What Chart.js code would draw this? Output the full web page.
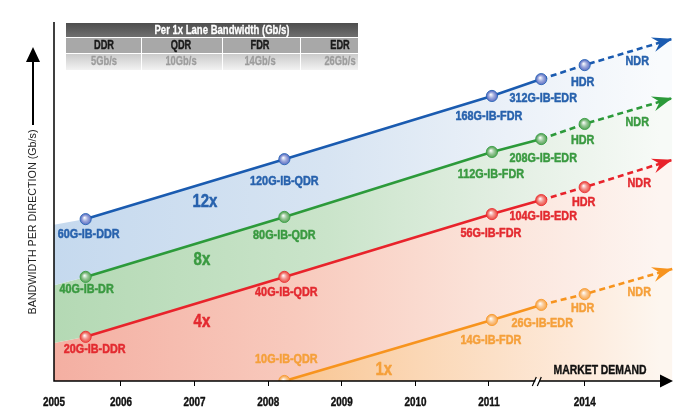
<!DOCTYPE html>
<html><head><meta charset="utf-8">
<script src="https://cdn.jsdelivr.net/npm/chart.js@4.4.0/dist/chart.umd.min.js"></script>
<style>html,body{margin:0;padding:0;background:#fff}#wrap{width:694px;height:417px;position:relative}</style>
</head><body><div id="wrap"><canvas id="c"></canvas></div>
<script>
// ---- data ----
const releaseYears = [2005.52, 2008.22, 2011.04, 2011.71, 2012.30, 2013.49]; // DDR, QDR, FDR, EDR, HDR, NDR
const blue12x   = [45.1, 61.8, 79.4, 84.1, 88.0, 95.3];
const green8x   = [29.0, 45.7, 63.8, 67.4, 71.6, 78.8];
const red4x     = [12.3, 29.0, 46.5, 50.4, 54.0, 61.6];
const orange1x  = [null, 0.0, 17.0, 21.2, 24.2, 31.2];
const blueLabels   = ['60G-IB-DDR','120G-IB-QDR','168G-IB-FDR','312G-IB-EDR','HDR','NDR'];
const greenLabels  = ['40G-IB-DR','80G-IB-QDR','112G-IB-FDR','208G-IB-EDR','HDR','NDR'];
const redLabels    = ['20G-IB-DDR','40G-IB-QDR','56G-IB-FDR','104G-IB-EDR','HDR','NDR'];
const orangeLabels = [null,'10G-IB-QDR','14G-IB-FDR','26G-IB-EDR','HDR','NDR'];
const multipliers = ['12x','8x','4x','1x'];
const axisStartYear = 2005.09;
const areaStart = [43.5, 26.7, 10.6]; // 12x, 8x, 4x band edges at axis start
const xTickValues = [2005.09, 2006, 2007, 2008, 2009, 2010, 2011, 2012.30];
const xTickLabels = ['2005','2006','2007','2008','2009','2010','2011','2014'];
const breakYear = 2011.67;
const dashFromYear = 2011.71;
const tableTitle = 'Per 1x Lane Bandwidth (Gb/s)';
const laneNames = ['DDR','QDR','FDR','EDR'];
const laneRates = ['5Gb/s','10Gb/s','14Gb/s','26Gb/s'];
const yTitle = 'BANDWIDTH PER DIRECTION (Gb/s)';
const xTitle = 'MARKET DEMAND';

// ---- layout / style ----
const LINE  = {blue:'#1a5bb0', green:'#2c9a3a', red:'#e8232b', orange:'#f7941e'};
const TEXT  = {blue:'#2862ad', green:'#3a9a41', red:'#e32a30', orange:'#f5a03b'};
const POINT = {blue:'#6f80cb', green:'#68ad68', red:'#ee5f56', orange:'#f8b062'};
const labelOffsets = {
  blue:   [[3,15],[0,22],[-3,20],[2,19],[-2,17],[-35,23]],
  green:  [[1,13],[0,18],[-1,22],[2,19],[-2,16],[-35,24]],
  red:    [[9,13],[2,16],[-1,19],[2,16],[-1,15],[-33,24]],
  orange: [null,[2,-22],[-1,20],[1,19],[-2,14],[-33,23]]
};
const multPos = [[2007.14,49.9,'blue'],[2007.10,33.7,'green'],[2007.10,16.4,'red'],[2009.57,3.1,'orange']];
const FAM = '"Liberation Sans","Arimo",Arial,sans-serif';

function pts(vals){ const out=[]; releaseYears.forEach((x,i)=>{ if(vals[i]!=null) out.push({x:x,y:vals[i]}); }); return out; }
function hGrad(stops){
  return (ctx)=>{
    const ch=ctx.chart, a=ch.chartArea;
    if(!a) return stops[0][1];
    const g=ch.ctx.createLinearGradient(a.left,0,a.left+606,0);
    stops.forEach(s=>g.addColorStop(s[0],s[1]));
    return g;
  };
}
function fillDs(data, fill, stops, order){
  return {data, fill, backgroundColor:hGrad(stops), borderColor:'rgba(0,0,0,0)', borderWidth:0, pointRadius:0, order, tension:0};
}
const series = [
  {key:'blue', vals:blue12x, labels:blueLabels},
  {key:'green', vals:green8x, labels:greenLabels},
  {key:'red', vals:red4x, labels:redLabels},
  {key:'orange', vals:orange1x, labels:orangeLabels}
];
function lineDs(s){
  const d=pts(s.vals);
  return {
    data:d, borderColor:LINE[s.key], borderWidth:2.6, fill:false, order:1, tension:0,
    pointRadius:c=>c.dataIndex===d.length-1?0:5.6,
    pointBackgroundColor:POINT[s.key], pointBorderColor:LINE[s.key], pointBorderWidth:0.8,
    segment:{borderDash:c=>{ const ds=c.chart.data.datasets[c.datasetIndex]; return ds.data[c.p0DataIndex].x>=dashFromYear-1e-6?[6,4]:[]; }},
    _key:s.key, _labels:s.labels.filter(v=>v!=null), _offs:labelOffsets[s.key].filter(v=>v!=null)
  };
}
const datasets = [
  fillDs([{x:axisStartYear,y:areaStart[0]},...pts(blue12x)], '+1', [[0,'#c5d9ee'],[0.45,'#d7e4f2'],[0.75,'#ebf1f8'],[1,'#f9fbfd']], 7),
  fillDs([{x:axisStartYear,y:areaStart[1]},...pts(green8x)], '+1', [[0,'#b4d9b4'],[0.45,'#cae4ca'],[0.75,'#e3efe3'],[1,'#f7faf7']], 8),
  fillDs([{x:axisStartYear,y:areaStart[2]},...pts(red4x)], 'start', [[0,'#f4afa2'],[0.4,'#f8cabd'],[0.7,'#fbe2d8'],[1,'#fdf5f1']], 10),
  fillDs(pts(orange1x), 'start', [[0.35,'#f8c28c'],[0.6,'#fbd7b5'],[0.85,'#fde9d9'],[1,'#fdf6ef']], 9),
  ...series.map(lineDs)
];

const fitCache={};
function fitText(c,s,x,y,font,color,sample,target,bold){
  const key=font+'|'+sample;
  if(!(key in fitCache)){ c.save(); c.font=font; fitCache[key]=target/c.measureText(sample).width; c.restore(); }
  c.save(); c.font=font; c.fillStyle=color; c.textAlign='center'; c.textBaseline='middle';
  c.translate(x,y); c.scale(fitCache[key],1); c.fillText(s,0,0);
  if(bold){ c.strokeStyle=color; c.lineWidth=bold; c.lineJoin='round'; c.strokeText(s,0,0); }
  c.restore();
}
function highlight(c,x,y,r){
  const g=c.createRadialGradient(x-1.2,y-1.4,0.3,x,y,r);
  g.addColorStop(0,'rgba(255,255,255,0.95)');
  g.addColorStop(0.55,'rgba(255,255,255,0.35)');
  g.addColorStop(1,'rgba(255,255,255,0)');
  c.fillStyle=g; c.beginPath(); c.arc(x,y,r,0,Math.PI*2); c.fill();
}
function arrowHead(c,p,q,color){
  const dx=p.x-q.x, dy=p.y-q.y, L=Math.hypot(dx,dy), ux=dx/L, uy=dy/L, nx=-uy, ny=ux;
  const len=20, w=7.5, notch=13;
  c.fillStyle=color; c.beginPath();
  c.moveTo(p.x,p.y);
  c.lineTo(p.x-len*ux+w*nx, p.y-len*uy+w*ny);
  c.lineTo(p.x-notch*ux, p.y-notch*uy);
  c.lineTo(p.x-len*ux-w*nx, p.y-len*uy-w*ny);
  c.closePath(); c.fill();
}

const deco = {
  id:'deco',
  afterDatasetsDraw(chart){
    const c=chart.ctx, xs=chart.scales.x, ys=chart.scales.y;
    chart.data.datasets.forEach((ds,i)=>{
      if(!ds._key) return;
      const m=chart.getDatasetMeta(i).data, n=m.length;
      for(let k=0;k<n-1;k++) highlight(c,m[k].x,m[k].y,4.6);
      arrowHead(c,m[n-1],m[n-2],LINE[ds._key]);
      ds._labels.forEach((s,k)=>{
        const o=ds._offs[k];
        fitText(c,s,m[k].x+o[0],m[k].y+o[1],'bold 13px '+FAM,TEXT[ds._key],'60G-IB-DDR',62,0.5);
      });
    });
    multPos.forEach((p,i)=>{
      fitText(c,multipliers[i],xs.getPixelForValue(p[0]),ys.getPixelForValue(p[1]),'bold 19px '+FAM,TEXT[p[2]],'12x',25,0.5);
    });
  },
  afterDraw(chart){
    const c=chart.ctx, a=chart.chartArea, xs=chart.scales.x;
    c.save();
    // tick labels (library ticks, condensed drawing)
    xs.ticks.forEach((t)=>{
      fitText(c,String(t.label),xs.getPixelForValue(t.value),403,'bold 12.5px '+FAM,'#111','2005',22,0.4);
    });
    // axes
    c.strokeStyle='#000'; c.lineWidth=1.5;
    c.beginPath(); c.moveTo(a.left,a.top); c.lineTo(a.left,a.bottom); c.lineTo(a.right-8,a.bottom); c.stroke();
    c.fillStyle='#000'; c.beginPath();
    c.moveTo(a.right,a.bottom); c.lineTo(a.right-13,a.bottom-6.5); c.lineTo(a.right-13,a.bottom+6.5); c.closePath(); c.fill();
    // axis break
    const bx=xs.getPixelForValue(breakYear), by=a.bottom;
    c.fillStyle='#fff'; c.fillRect(bx-3,by-2,4,4);
    c.strokeStyle='#000'; c.lineWidth=1.2; c.beginPath();
    c.moveTo(bx-6,by+5); c.lineTo(bx-2,by-4);
    c.moveTo(bx-1,by+5); c.lineTo(bx+3,by-4); c.stroke();
    fitText(c,xTitle,600,370,'bold 13px '+FAM,'#111',xTitle,93,0.4);
    // y arrow + title
    c.fillStyle='#000'; c.fillRect(32,60,2,65);
    c.beginPath(); c.moveTo(33,47); c.lineTo(26,62); c.lineTo(40,62); c.closePath(); c.fill();
    c.save(); c.translate(33,222); c.rotate(-Math.PI/2);
    fitText(c,yTitle,0,0,'11.5px '+FAM,'#222',yTitle,185);
    c.restore();
    // table
    const x0=66, x1=358, rows=[23,37,53,70], cols=[66,141,222,300], centers=[104,181,260,340];
    let g=c.createLinearGradient(0,rows[0],0,rows[1]); g.addColorStop(0,'#4e4e4e'); g.addColorStop(1,'#6f6f6f');
    c.fillStyle=g; c.fillRect(x0,rows[0],x1-x0,rows[1]-rows[0]);
    c.fillStyle='#a8a8a8'; c.fillRect(x0,rows[1],x1-x0,rows[2]-rows[1]);
    g=c.createLinearGradient(0,rows[2],0,rows[3]); g.addColorStop(0,'#c8c8c8'); g.addColorStop(1,'#f2f2f2');
    c.fillStyle=g; c.fillRect(x0,rows[2],x1-x0,rows[3]-rows[2]);
    c.strokeStyle='#ffffff'; c.lineWidth=1;
    c.beginPath(); c.moveTo(x0,rows[1]+0.5); c.lineTo(x1,rows[1]+0.5); c.moveTo(x0,rows[2]+0.5); c.lineTo(x1,rows[2]+0.5);
    for(let k=1;k<cols.length;k++){ c.moveTo(cols[k]+0.5,rows[1]); c.lineTo(cols[k]+0.5,rows[3]); }
    c.stroke();
    fitText(c,tableTitle,222,30.5,'bold 12.5px '+FAM,'#ffffff',tableTitle,135,0.3);
    laneNames.forEach((s,k)=>fitText(c,s,centers[k],46,'bold 12.5px '+FAM,'#1a1a1a','DDR',20,0.4));
    laneRates.forEach((s,k)=>fitText(c,s,centers[k],62,'bold 12px '+FAM,'#9c9c9c','5Gb/s',26,0.3));
    c.restore();
  }
};

new Chart(document.getElementById('c'), {
  type:'line',
  data:{datasets},
  options:{
    responsive:true, maintainAspectRatio:false, animation:false,
    layout:{padding:{left:54,right:21,top:22,bottom:7}},
    plugins:{legend:{display:false}, tooltip:{enabled:false}},
    scales:{
      x:{type:'linear', min:axisStartYear, max:2013.5,
        afterBuildTicks:s=>{ s.ticks=xTickValues.map(v=>({value:v})); },
        afterFit:s=>{ s.height=29; },
        ticks:{autoSkip:false, maxRotation:0, padding:10, color:'rgba(0,0,0,0)', font:{family:FAM, size:12, weight:'bold'},
          callback:(v,i)=>xTickLabels[i]},
        grid:{drawOnChartArea:false, drawTicks:true, tickLength:5, color:c=>c.index===0?'rgba(0,0,0,0)':'#000', lineWidth:1},
        border:{display:false}
      },
      y:{type:'linear', min:0, max:100, display:false}
    }
  },
  plugins:[deco]
});
</script>
</body></html>
